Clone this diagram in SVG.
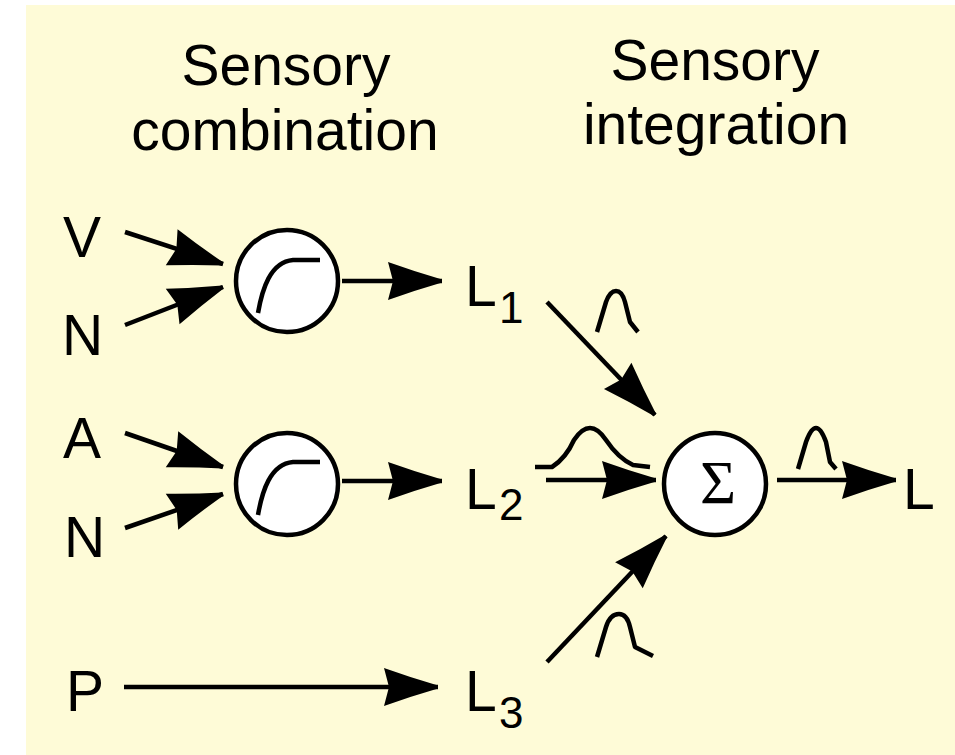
<svg xmlns="http://www.w3.org/2000/svg" width="955" height="755" viewBox="0 0 955 755">
  <style>
    .lbl { font-family: "Liberation Sans", Arial, sans-serif; font-size: 57px; fill: #000; }
    .sub { font-family: "Liberation Sans", Arial, sans-serif; font-size: 44px; fill: #000; }
    .ttl { font-family: "Liberation Sans", Arial, sans-serif; font-size: 57px; fill: #000; text-anchor: middle; }
    .unit { fill: #fff; stroke: #000; stroke-width: 4.5; }
    .curve { fill: none; stroke: #000; stroke-width: 4.5; }
    .wire { fill: none; stroke: #000; stroke-width: 4.5; marker-end: url(#head); }
    .bump { fill: none; stroke: #000; stroke-width: 4.5; stroke-linejoin: round; }
  </style>
  <defs>
    <marker id="head" markerUnits="userSpaceOnUse" markerWidth="60" markerHeight="44" refX="0" refY="0" viewBox="-56 -22 58 44" orient="auto" overflow="visible">
      <path d="M0,-1.5 L0,1.5 Q-26,9 -54,19 L-49,0 L-54,-19 Q-26,-9 0,-1.5 Z" fill="#000"/>
    </marker>
  </defs>

  <!-- panel background -->
  <rect width="955" height="755" fill="#fff"/>
  <rect x="26" y="5" width="929" height="750" fill="#fefbd7"/>

  <!-- column headings -->
  <g id="heading-combination">
    <text class="ttl" x="286" y="85">Sensory</text>
    <text class="ttl" x="285" y="150">combination</text>
  </g>
  <g id="heading-integration">
    <text class="ttl" x="715" y="80">Sensory</text>
    <text class="ttl" x="716" y="144">integration</text>
  </g>

  <!-- inputs -->
  <g id="in-V"><text class="lbl" x="63" y="257">V</text></g>
  <g id="in-N1"><text class="lbl" x="62" y="355">N</text></g>
  <g id="in-A"><text class="lbl" x="63" y="458">A</text></g>
  <g id="in-N2"><text class="lbl" x="64" y="557">N</text></g>
  <g id="in-P"><text class="lbl" x="66" y="711">P</text></g>

  <!-- combination units (saturating nonlinearity) -->
  <g id="combine-1">
    <circle class="unit" cx="287" cy="281" r="51"/>
    <path class="curve" d="M258,313 C262,290 270,262 293,260 L320,260"/>
  </g>
  <g id="combine-2">
    <circle class="unit" cx="287" cy="484" r="51"/>
    <path class="curve" d="M258,515 C262,492 270,464 293,462 L320,462"/>
  </g>

  <!-- intermediate estimates -->
  <g id="est-L1"><text class="lbl" x="465" y="306">L</text><text class="sub" x="499" y="323">1</text></g>
  <g id="est-L2"><text class="lbl" x="465" y="509">L</text><text class="sub" x="499" y="520">2</text></g>
  <g id="est-L3"><text class="lbl" x="465" y="711">L</text><text class="sub" x="499" y="728">3</text></g>

  <!-- integration unit -->
  <g id="integrate">
    <circle class="unit" cx="715" cy="484" r="51"/>
    <text x="718" y="503" text-anchor="middle" font-family="'Liberation Serif', 'Times New Roman', serif" font-size="62" fill="#000">Σ</text>
  </g>

  <!-- final estimate -->
  <g id="out-L"><text class="lbl" x="903" y="509">L</text></g>

  <!-- connectors -->
  <g id="connectors">
    <line class="wire" x1="125" y1="232" x2="223" y2="264"/>
    <line class="wire" x1="125" y1="325" x2="223" y2="287"/>
    <line class="wire" x1="342" y1="281" x2="442" y2="281"/>
    <line class="wire" x1="125" y1="433" x2="223" y2="467"/>
    <line class="wire" x1="125" y1="528" x2="223" y2="494"/>
    <line class="wire" x1="342" y1="481" x2="442" y2="481"/>
    <line class="wire" x1="124" y1="687" x2="438" y2="687"/>
    <line class="wire" x1="547" y1="302" x2="655" y2="415"/>
    <line class="wire" x1="546" y1="480" x2="656" y2="480"/>
    <line class="wire" x1="547" y1="662" x2="666" y2="536"/>
    <line class="wire" x1="777" y1="480" x2="896" y2="480"/>
  </g>

  <!-- likelihood profiles -->
  <g id="profiles">
    <path class="bump" d="M597,332 L606,302 Q610,291 616,291 Q622,291 625,302 L630,322 L638,332"/>
    <path class="bump" d="M535,467 L552,467 Q566,458 574,440 Q582,428 590,428 Q598,428 606,440 Q618,458 633,465 L650,467"/>
    <path class="bump" d="M798,469 L806,442 Q811,428 816,428 Q821,428 826,442 L830,462 L836,469"/>
    <path class="bump" d="M597,657 L606,627 Q610,614 619,614 Q627,614 630,627 L635,647 L653,656"/>
  </g>
</svg>
